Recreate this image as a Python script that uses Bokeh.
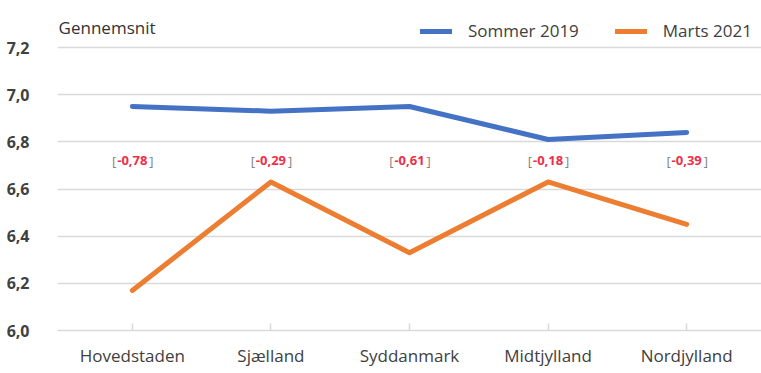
from bokeh.plotting import figure
from bokeh.models import (ColumnDataSource, FixedTicker, Label, Legend, LegendItem, Range1d, FactorRange)
from bokeh.core.properties import value
from bokeh.embed import file_html
from bokeh.resources import INLINE

regions = ["Hovedstaden", "Sjælland", "Syddanmark", "Midtjylland", "Nordjylland"]
sommer_2019 = [6.95, 6.93, 6.95, 6.81, 6.84]
marts_2021 = [6.17, 6.63, 6.33, 6.63, 6.45]
diff_labels = ["-0,78", "-0,29", "-0,61", "-0,18", "-0,39"]
label_y = [6.72, 6.72, 6.72, 6.72, 6.72]
y_ticks = [6.0, 6.2, 6.4, 6.6, 6.8, 7.0, 7.2]
y_tick_labels = ["6,0", "6,2", "6,4", "6,6", "6,8", "7,0", "7,2"]

FONT = "Open Sans"
BLUE = "#4472C4"
ORANGE = "#ED7D31"
TXT = "#404040"

p = figure(x_range=FactorRange(*regions, range_padding=0.04, range_padding_units="absolute"),
           y_range=Range1d(6.0, 7.357),
           width=761, height=373, output_backend="svg", toolbar_location=None,
           min_border_left=57, min_border_right=0, min_border_top=10, min_border_bottom=43)
p.outline_line_color = None
p.background_fill_color = "white"

src = ColumnDataSource(dict(x=regions, s=sommer_2019, m=marts_2021, lbl=diff_labels, ly=label_y))
r1 = p.line("x", "s", source=src, line_color=BLUE, line_width=5, line_cap="round", line_join="round")
r2 = p.line("x", "m", source=src, line_color=ORANGE, line_width=5, line_cap="round", line_join="round")

# difference labels: gray brackets, red numbers
p.text("x", "ly", text="lbl", source=src, text_color="#EE2E48", text_font=value(FONT),
       text_font_size="13px", text_font_style="bold", text_align="center", text_baseline="middle")
p.text("x", "ly", text=value("["), source=src, text_color="#7F7F7F", text_font=value(FONT),
       text_font_size="13px", text_align="right", text_baseline="middle", x_offset=-16)
p.text("x", "ly", text=value("]"), source=src, text_color="#7F7F7F", text_font=value(FONT),
       text_font_size="13px", text_align="left", text_baseline="middle", x_offset=17)

# grid / axes
p.xgrid.grid_line_color = None
p.ygrid.grid_line_color = "#d9d9d9"
p.ygrid.grid_line_width = 1.5
p.yaxis.ticker = FixedTicker(ticks=y_ticks)
p.yaxis.major_label_overrides = {t: l for t, l in zip(y_ticks, y_tick_labels)}
p.yaxis.axis_line_color = None
p.yaxis.major_tick_line_color = None
p.yaxis.minor_tick_line_color = None
p.yaxis.major_label_standoff = 22
p.yaxis.major_label_text_font = FONT
p.yaxis.major_label_text_font_size = "16px"
p.yaxis.major_label_text_font_style = "bold"
p.yaxis.major_label_text_color = TXT

p.xaxis.axis_line_color = "#d9d9d9"
p.xaxis.axis_line_width = 1.5
p.xaxis.major_tick_line_color = "#d9d9d9"
p.xaxis.major_tick_line_width = 1.5
p.xaxis.major_tick_in = 7
p.xaxis.major_tick_out = 0
p.xaxis.major_label_standoff = 13
p.xaxis.major_label_text_font = FONT
p.xaxis.major_label_text_font_size = "17px"
p.xaxis.major_label_text_color = TXT

# header text
p.add_layout(Label(x=-0.032, y=7.285, text="Gennemsnit", text_font=FONT, text_font_size="17px",
                   text_color="#333333", text_baseline="middle", text_align="left"))

legend = Legend(items=[LegendItem(label="Sommer 2019", renderers=[r1]),
                       LegendItem(label="Marts 2021", renderers=[r2])],
                location=(363, 288), orientation="horizontal",
                glyph_width=32, glyph_height=22, label_height=22, label_standoff=16, spacing=36,
                padding=0, margin=0, border_line_color=None, background_fill_alpha=0,
                label_text_font=FONT, label_text_font_size="17px", label_text_color=TXT)
p.add_layout(legend, "center")

open("out.html", "w").write(file_html(p, INLINE))
